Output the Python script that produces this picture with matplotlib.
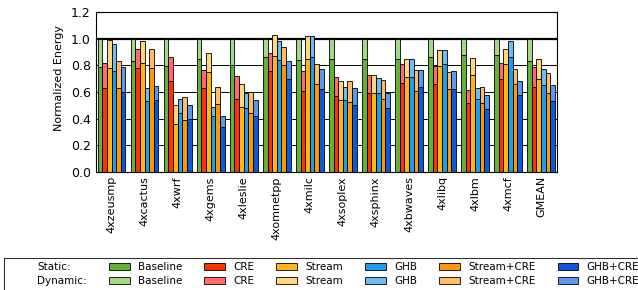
import matplotlib.pyplot as plt
import numpy as np
from matplotlib.patches import Patch

benchmarks = ['4xzeusmp', '4xcactus', '4xwrf', '4xgems', '4xleslie', '4xomnetpp', '4xmilc',
              '4xsoplex', '4xsphinx', '4xbwaves', '4xlibq', '4xlbm', '4xmcf', 'GMEAN']
configs = ['Baseline', 'CRE', 'Stream', 'GHB', 'Stream+CRE', 'GHB+CRE']

# static energy and total energy (static + dynamic), normalized to baseline
baseline_static = [0.79, 0.835, 0.795, 0.85, 0.805, 0.86, 0.84, 0.85, 0.85, 0.85, 0.865, 0.88, 0.875, 0.835]
baseline_total = [1.0, 1.0, 1.0, 1.0, 1.0, 1.0, 1.0, 1.0, 1.0, 1.0, 1.0, 1.0, 1.0, 1.0]
cre_static = [0.63, 0.78, 0.68, 0.63, 0.55, 0.76, 0.61, 0.57, 0.595, 0.67, 0.66, 0.52, 0.70, 0.64]
cre_total = [0.82, 0.925, 0.86, 0.765, 0.72, 0.895, 0.76, 0.71, 0.73, 0.81, 0.795, 0.615, 0.82, 0.79]
stream_static = [0.78, 0.82, 0.36, 0.75, 0.49, 0.87, 0.85, 0.54, 0.59, 0.71, 0.795, 0.725, 0.81, 0.70]
stream_total = [0.99, 0.98, 0.505, 0.895, 0.66, 1.03, 1.02, 0.68, 0.73, 0.85, 0.915, 0.855, 0.92, 0.85]
ghb_static = [0.76, 0.53, 0.44, 0.42, 0.48, 0.84, 0.86, 0.54, 0.595, 0.715, 0.81, 0.55, 0.86, 0.65]
ghb_total = [0.96, 0.63, 0.55, 0.49, 0.59, 0.98, 1.02, 0.64, 0.705, 0.85, 0.915, 0.63, 0.98, 0.77]
stream_cre_static = [0.63, 0.78, 0.39, 0.51, 0.44, 0.80, 0.66, 0.525, 0.55, 0.61, 0.625, 0.52, 0.66, 0.59]
stream_cre_total = [0.83, 0.925, 0.56, 0.64, 0.60, 0.94, 0.81, 0.68, 0.69, 0.765, 0.75, 0.64, 0.77, 0.74]
ghb_cre_static = [0.60, 0.54, 0.40, 0.34, 0.42, 0.70, 0.62, 0.50, 0.48, 0.64, 0.625, 0.475, 0.58, 0.53]
ghb_cre_total = [0.79, 0.645, 0.50, 0.42, 0.54, 0.83, 0.775, 0.63, 0.59, 0.765, 0.76, 0.58, 0.68, 0.65]

statics = [baseline_static, cre_static, stream_static, ghb_static, stream_cre_static, ghb_cre_static]
totals = [baseline_total, cre_total, stream_total, ghb_total, stream_cre_total, ghb_cre_total]

static_colors = ['#62b236', '#ff3300', '#ffb414', '#1e9cee', '#ff9800', '#0a58dc']
dynamic_colors = ['#a3d78a', '#ff6b6b', '#ffd67e', '#6cbdf4', '#ffbd68', '#5b98ef']

fig = plt.figure(figsize=(6.38, 2.9), dpi=100)
ax = fig.add_axes([0.150, 0.407, 0.723, 0.552])

x = np.arange(len(benchmarks))
w = 0.14
for k in range(len(configs)):
    s = np.array(statics[k])
    d = np.array(totals[k]) - s
    ax.bar(x + k * w, s, w, align='edge', color=static_colors[k],
           edgecolor='black', linewidth=0.6, zorder=2)
    ax.bar(x + k * w, d, w, bottom=s, align='edge', color=dynamic_colors[k],
           edgecolor='black', linewidth=0.6, zorder=2)

ax.axhline(1.0, color='black', lw=1.6, zorder=1)
ax.set_ylim(0, 1.2)
ax.set_yticks(np.arange(0, 1.21, 0.2))
ax.set_yticklabels(['%.1f' % v for v in np.arange(0, 1.21, 0.2)])
ax.set_xlim(-0.06, 13.9)
ax.set_xticks(x + 3 * w)
ax.set_xticklabels(benchmarks, rotation=90, fontsize=8)
ax.yaxis.grid(True, color='black', lw=0.7)
ax.set_axisbelow(True)
ax.tick_params(axis='y', direction='in', left=True, right=True, labelsize=9, length=4)
ax.tick_params(axis='x', length=0, pad=3)
ax.set_ylabel('Normalized Energy', fontsize=8)
ax.yaxis.set_label_coords(-0.068, 0.585)

# legend: first column holds the row titles
handles = [Patch(visible=False), Patch(visible=False)]
labels = ['Static:', 'Dynamic:']
for k, name in enumerate(configs):
    handles += [Patch(facecolor=static_colors[k], edgecolor='black', linewidth=0.6),
                Patch(facecolor=dynamic_colors[k], edgecolor='black', linewidth=0.6)]
    labels += [name, name]

leg = fig.legend(handles, labels, ncol=7, loc='upper left', bbox_to_anchor=(0.0063, 0.110),
                 borderaxespad=0, fontsize=7.5, frameon=True, fancybox=False,
                 edgecolor='black', columnspacing=2.1, handlelength=2.0, labelspacing=0.4)
leg.get_frame().set_linewidth(0.8)

plt.savefig('out.png', dpi=100)
